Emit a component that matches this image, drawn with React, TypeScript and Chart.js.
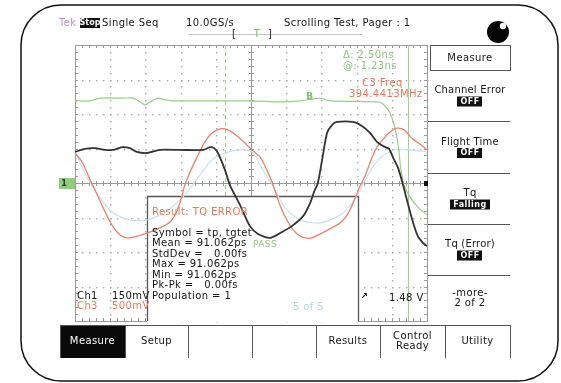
import { useEffect, useRef } from "react";
import { Chart, registerables } from "chart.js";

Chart.register(...registerables);

const W = 561;
const H = 383;

// Horizontal: divisions from trigger (500 ps/div). Vertical: divisions from ground.
const ch1Time = [-5.0, -4.72, -4.43, -4.15, -3.92, -3.66, -3.44, -3.24, -2.95, -2.59, -2.02, -1.36, -1.16, -1.05, -0.94, -0.74, -0.6, -0.31, -0.03, 0.2, 0.54, 0.88, 1.16, 1.48, 1.68, 1.79, 1.9, 2.02, 2.16, 2.3, 2.44, 2.9, 3.15, 3.38, 3.58, 3.75, 3.92, 4.03, 4.18, 4.32, 4.46, 4.6, 4.74, 4.89, 5.0];
const ch1Level = [0.9, 0.99, 1.01, 0.96, 0.96, 1.04, 1.01, 0.9, 0.87, 0.96, 0.96, 0.96, 1.04, 1.01, 0.87, 0.38, -0.06, -0.64, -1.25, -1.48, -1.59, -1.42, -1.25, -0.96, -0.58, -0.26, 0.0, 0.67, 1.45, 1.68, 1.77, 1.77, 1.65, 1.45, 1.19, 1.07, 0.99, 0.75, 0.43, -0.06, -0.61, -1.13, -1.54, -1.74, -1.83];

const ch2Time = [-5.0, -4.57, -4.29, -3.66, -3.35, -3.15, -3.01, -2.87, -2.64, -2.44, -2.16, -0.03, 0.91, 1.39, 1.96, 2.24, 3.58, 3.75, 3.95, 4.09, 4.18, 4.26, 4.35, 4.52, 4.74, 5.0];
const ch2Level = [2.38, 2.38, 2.46, 2.46, 2.46, 2.35, 2.26, 2.35, 2.46, 2.41, 2.38, 2.38, 2.35, 2.38, 2.46, 2.38, 2.35, 2.29, 2.03, 1.59, 1.1, 0.38, -0.06, -0.41, -0.7, -0.93];

const ch3Time = [-5.0, -4.8, -4.57, -4.43, -4.2, -3.95, -3.72, -3.52, -3.24, -2.95, -2.59, -2.3, -2.13, -2.02, -1.88, -1.73, -1.53, -1.31, -1.11, -0.88, -0.65, -0.43, -0.17, 0.03, 0.26, 0.45, 0.63, 0.82, 1.05, 1.31, 1.53, 1.73, 1.96, 2.24, 2.53, 2.73, 2.9, 3.1, 3.24, 3.41, 3.58, 3.78, 3.95, 4.15, 4.35, 4.57, 4.8, 5.0];
const ch3Level = [0.87, 0.61, 0.09, -0.2, -0.72, -1.22, -1.51, -1.59, -1.54, -1.45, -1.3, -1.13, -0.87, -0.58, -0.06, 0.32, 0.75, 1.19, 1.45, 1.57, 1.54, 1.39, 1.16, 0.96, 0.75, 0.38, -0.06, -0.64, -1.13, -1.48, -1.59, -1.59, -1.48, -1.33, -1.16, -0.93, -0.58, -0.09, 0.2, 0.67, 1.04, 1.3, 1.48, 1.59, 1.54, 1.3, 1.13, 0.96];

const ch4Time = [-5.0, -4.66, -4.29, -3.92, -3.44, -2.95, -2.44, -1.88, -1.45, -1.11, -0.74, -0.31, 0.03, 0.31, 0.6, 0.97, 1.39, 1.96, 2.53, 2.87, 3.1, 3.32, 3.66, 4.09, 4.52, 5.0];
const ch4Level = [0.9, 0.17, -0.43, -0.87, -1.07, -1.07, -0.84, -0.35, 0.23, 0.67, 0.87, 0.96, 0.9, 0.43, -0.06, -0.72, -1.07, -1.16, -0.93, -0.58, -0.2, 0.23, 0.72, 0.96, 0.96, 0.9];

const cursorA = -0.74;
const cursorB = 4.46;

const resultLines = [
  "Symbol = tp, tgtet",
  "Mean = 91.062ps",
  "StdDev =   0.00fs",
  "Max = 91.062ps",
  "Min = 91.062ps",
  "Pk-Pk =   0.00fs",
  "Population = 1",
];

const sideButtons = [
  { top: "Channel Error", badge: "OFF" },
  { top: "Flight Time", badge: "OFF" },
  { top: "Tq", badge: "Falling" },
  { top: "Tq (Error)", badge: "OFF" },
];

const bottomButtons = ["Measure", "Setup", "", "", "Results", "Control\nReady", "Utility"];

const FONT = "DejaVu Sans";
const C_BLACK = "#333333";
const C_RED = "#e8836c";
const C_GREEN = "#97cf86";
const C_BLUE = "#c6e0ee";

const toPoints = (t: number[], v: number[]) => t.map((x, i) => ({ x, y: v[i] }));

function txt(ctx: CanvasRenderingContext2D, s: string, x: number, y: number, color = "#151515", align: CanvasTextAlign = "left", size = 10, weight = "normal", spacing = 0.4) {
  ctx.font = `${weight} ${size}px "${FONT}"`;
  (ctx as any).letterSpacing = `${spacing}px`;
  ctx.fillStyle = color;
  ctx.textAlign = align;
  ctx.textBaseline = "middle";
  ctx.fillText(s, x, y);
  (ctx as any).letterSpacing = "0px";
}

function badge(ctx: CanvasRenderingContext2D, s: string, cx: number, cy: number) {
  ctx.font = `bold 8px "${FONT}"`;
  (ctx as any).letterSpacing = "0.5px";
  const w = ctx.measureText(s).width + 6;
  ctx.fillStyle = "#111";
  ctx.fillRect(Math.round(cx - w / 2), cy - 5, Math.round(w), 10);
  txt(ctx, s, cx, cy, "#fff", "center", 8, "bold", 0.5);
}

const screenPlugin = {
  id: "scopeScreen",
  beforeDraw(chart: Chart) {
    const ctx = chart.ctx;
    ctx.save();
    ctx.fillStyle = "#fff";
    ctx.fillRect(0, 0, W, H);
    ctx.restore();
  },
  beforeDatasetsDraw(chart: Chart) {
    const ctx = chart.ctx;
    const xs = chart.scales.x;
    const ys = chart.scales.y;
    const { left, right, top, bottom } = chart.chartArea;
    ctx.save();
    // dotted division lines
    ctx.fillStyle = "#a8a8a8";
    for (let d = -4; d <= 4; d++) {
      if (d === 0) continue;
      const px = Math.round(xs.getPixelForValue(d));
      for (let m = -20; m <= 20; m++) {
        const py = Math.round(ys.getPixelForValue(m / 5));
        ctx.fillRect(px, py, 1.4, 1.4);
      }
    }
    for (let d = -3; d <= 3; d++) {
      if (d === 0) continue;
      const py = Math.round(ys.getPixelForValue(d));
      for (let m = -25; m <= 25; m++) {
        const px = Math.round(xs.getPixelForValue(m / 5));
        ctx.fillRect(px, py, 1.4, 1.4);
      }
    }
    // frame and centre cross
    ctx.strokeStyle = "#9a9a9a";
    ctx.lineWidth = 1;
    ctx.strokeRect(left + 0.5, top + 0.5, right - left, bottom - top);
    const cx = Math.round(xs.getPixelForValue(0)) + 0.5;
    const cy = Math.round(ys.getPixelForValue(0)) + 0.5;
    ctx.beginPath();
    ctx.moveTo(left, cy);
    ctx.lineTo(right, cy);
    ctx.moveTo(cx, top);
    ctx.lineTo(cx, bottom);
    for (let m = -25; m <= 25; m++) {
      const px = Math.round(xs.getPixelForValue(m / 5)) + 0.5;
      ctx.moveTo(px, cy - 2.5);
      ctx.lineTo(px, cy + 2.5);
      ctx.moveTo(px, top);
      ctx.lineTo(px, top + 3);
      ctx.moveTo(px, bottom);
      ctx.lineTo(px, bottom - 3);
    }
    for (let m = -20; m <= 20; m++) {
      const py = Math.round(ys.getPixelForValue(m / 5)) + 0.5;
      ctx.moveTo(cx - 2.5, py);
      ctx.lineTo(cx + 2.5, py);
      ctx.moveTo(left, py);
      ctx.lineTo(left + 3, py);
      ctx.moveTo(right, py);
      ctx.lineTo(right - 3, py);
    }
    ctx.stroke();

    // cursors
    ctx.strokeStyle = "#9fd28f";
    ctx.lineWidth = 1;
    const ax = Math.round(xs.getPixelForValue(cursorA)) + 0.5;
    const bx = Math.round(xs.getPixelForValue(cursorB)) + 0.5;
    ctx.setLineDash([4, 3]);
    ctx.beginPath();
    ctx.moveTo(ax, top);
    ctx.lineTo(ax, bottom);
    ctx.stroke();
    ctx.setLineDash([]);
    ctx.beginPath();
    ctx.moveTo(bx, top);
    ctx.lineTo(bx, bottom);
    ctx.stroke();

    // measurement result panel (traces stay visible on top of it)
    ctx.fillStyle = "#fff";
    ctx.fillRect(147, 196, 211, bottom - 196 + 1);
    ctx.strokeStyle = "#555";
    ctx.lineWidth = 1.3;
    ctx.beginPath();
    ctx.moveTo(147.5, bottom);
    ctx.lineTo(147.5, 196.5);
    ctx.lineTo(358.5, 196.5);
    ctx.lineTo(358.5, bottom);
    ctx.stroke();
    ctx.restore();
  },
  afterDraw(chart: Chart) {
    const ctx = chart.ctx;
    const ys = chart.scales.y;
    const { right } = chart.chartArea;
    ctx.save();

    // outer bezel
    ctx.strokeStyle = "#111";
    ctx.lineWidth = 1.5;
    ctx.beginPath();
    ctx.roundRect(21, 5, 537, 376, 40);
    ctx.stroke();

    // status line
    txt(ctx, "Tek", 59, 23, "#c98ccb");
    ctx.fillStyle = "#111";
    ctx.fillRect(80, 18, 20, 10);
    txt(ctx, "Stop", 90, 23, "#fff", "center", 8, "bold", 0);
    txt(ctx, "Single Seq", 102, 23);
    txt(ctx, "10.0GS/s", 186, 23);
    txt(ctx, "Scrolling Test, Pager : 1", 284, 23);

    // record view bar
    ctx.strokeStyle = "#c8c8c8";
    ctx.lineWidth = 1;
    ctx.beginPath();
    ctx.moveTo(188, 34.5);
    ctx.lineTo(362, 34.5);
    ctx.stroke();
    txt(ctx, "[", 232, 34, "#222");
    txt(ctx, "T", 257, 34, "#7cbf6c", "center");
    txt(ctx, "]", 268, 34, "#222");

    // status indicator
    ctx.fillStyle = "#050505";
    ctx.beginPath();
    ctx.arc(498, 32, 11, 0, Math.PI * 2);
    ctx.fill();
    ctx.fillStyle = "#fff";
    ctx.beginPath();
    ctx.arc(503, 26, 3.2, 0, Math.PI * 2);
    ctx.fill();

    // cursor and frequency readouts
    txt(ctx, "\u0394: 2.50ns", 343, 55, "#8cc47c");
    txt(ctx, "@: 1.23ns", 343, 66, "#8cc47c");
    txt(ctx, "C3 Freq", 362, 83, "#e07a5e");
    txt(ctx, "394.4413MHz", 349, 94, "#e07a5e");
    txt(ctx, "B", 310, 97, "#7cbf6c", "center", 9, "bold");

    // ground marker
    const gy = ys.getPixelForValue(0);
    ctx.fillStyle = "#8fce7d";
    ctx.fillRect(59, gy - 5, 16, 11);
    txt(ctx, "1", 64, gy + 0.5, "#333", "center", 8, "bold", 0);
    ctx.fillStyle = "#111";
    ctx.fillRect(right - 3, gy - 2, 4, 5);

    // result text
    txt(ctx, "Result: TQ ERROR", 152, 212, "#e57a5c");
    resultLines.forEach((s, i) => txt(ctx, s, 152, 233 + i * 10.5));
    txt(ctx, "PASS", 253, 245, "#8cc47c", "left", 9);
    txt(ctx, "5 of 5", 293, 307, "#b4d4e4");

    // channel scales
    txt(ctx, "Ch1", 77, 296);
    txt(ctx, "150mV", 112, 296);
    txt(ctx, "Ch3", 77, 306, "#e57a5c");
    txt(ctx, "500mV", 112, 306, "#e57a5c");
    txt(ctx, "\u2197", 364, 297, "#222", "center", 9, "bold", 0);
    txt(ctx, "1.48 V", 389, 298);

    // side menu
    ctx.strokeStyle = "#555";
    ctx.lineWidth = 1;
    ctx.strokeRect(430.5, 45.5, 80, 25);
    txt(ctx, "Measure", 470, 58, "#151515", "center");
    const seps = [121, 173, 224, 275];
    ctx.beginPath();
    seps.forEach((y) => {
      ctx.moveTo(428, y + 0.5);
      ctx.lineTo(510, y + 0.5);
    });
    ctx.stroke();
    const sectionTops = [70, 121, 173, 224];
    sideButtons.forEach((b, i) => {
      const c = (sectionTops[i] + seps[i]) / 2;
      txt(ctx, b.top, 470, c - 5, "#151515", "center", 10, "normal", 0.2);
      badge(ctx, b.badge, 470, c + 6);
    });
    txt(ctx, "-more-", 470, 293, "#151515", "center");
    txt(ctx, "2 of 2", 470, 303, "#151515", "center");

    // bottom menu
    const edges = [60, 125, 188, 252, 316, 380, 445, 510];
    ctx.fillStyle = "#0a0a0a";
    ctx.fillRect(60, 325, 65, 33);
    ctx.strokeStyle = "#555";
    ctx.beginPath();
    ctx.moveTo(60, 325.5);
    ctx.lineTo(510, 325.5);
    edges.forEach((x) => {
      ctx.moveTo(x + 0.5, 325);
      ctx.lineTo(x + 0.5, 358);
    });
    ctx.stroke();
    bottomButtons.forEach((s, i) => {
      const cx = (edges[i] + edges[i + 1]) / 2;
      const color = i === 0 ? "#fff" : "#151515";
      const parts = s.split("\n");
      parts.forEach((p, j) => txt(ctx, p, cx, 341 + (j - (parts.length - 1) / 2) * 10, color, "center"));
    });
    ctx.restore();
  },
};

export default function App() {
  const ref = useRef<HTMLCanvasElement | null>(null);
  useEffect(() => {
    if (!ref.current) return;
    const chart = new Chart(ref.current, {
      type: "line",
      data: {
        datasets: [
          { label: "Ch1", data: toPoints(ch1Time, ch1Level), borderColor: C_BLACK, borderWidth: 1.8 },
          { label: "Ch3", data: toPoints(ch3Time, ch3Level), borderColor: C_RED, borderWidth: 1.3 },
          { label: "Ch2", data: toPoints(ch2Time, ch2Level), borderColor: C_GREEN, borderWidth: 1.2 },
          { label: "Ch4", data: toPoints(ch4Time, ch4Level), borderColor: C_BLUE, borderWidth: 1.1 },
        ],
      },
      options: {
        responsive: false,
        animation: false,
        events: [],
        layout: { padding: { left: 75, top: 45, right: W - 427, bottom: H - 321 } },
        elements: { point: { radius: 0 }, line: { tension: 0.25, fill: false } },
        scales: {
          x: { type: "linear", min: -5, max: 5, display: false },
          y: { type: "linear", min: -4, max: 4, display: false },
        },
        plugins: { legend: { display: false }, tooltip: { enabled: false } },
      },
      plugins: [screenPlugin],
    });
    return () => chart.destroy();
  }, []);
  return (
    <div style={{ position: "absolute", left: 0, top: 0, width: W, height: H }}>
      <canvas ref={ref} width={W} height={H} style={{ display: "block", width: W, height: H }} />
    </div>
  );
}
